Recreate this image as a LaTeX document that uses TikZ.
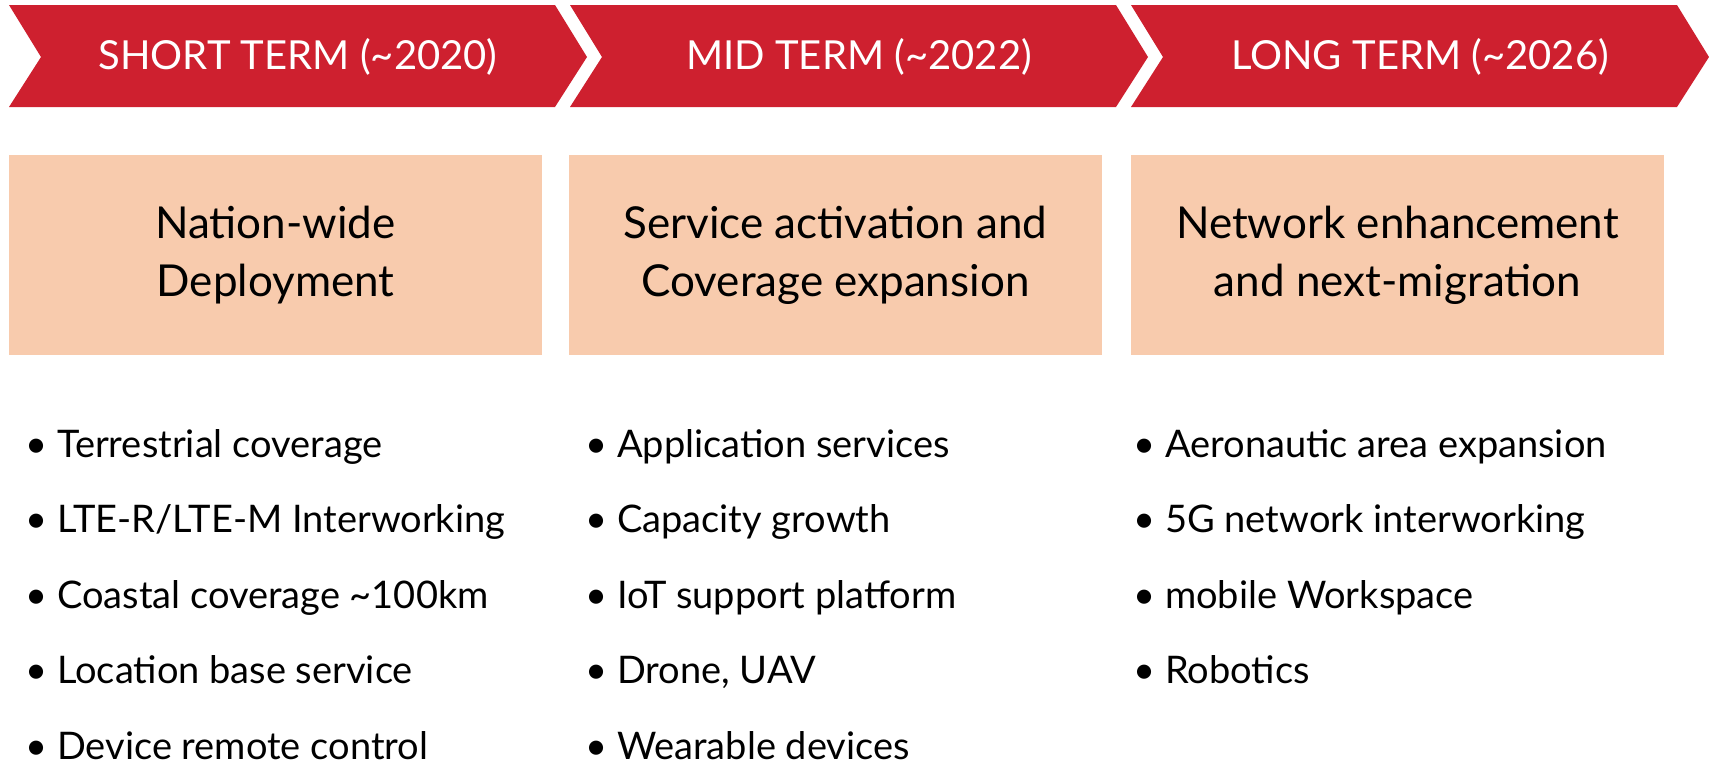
\documentclass[tikz,border=0pt]{standalone}
\usepackage{fontspec}
\setmainfont{Lato}
\usetikzlibrary{calc}
\definecolor{termred}{HTML}{CE202F}
\definecolor{peach}{HTML}{F8CBAD}
\tikzset{
  chev/.style={fill=termred, draw=none},
  goalbox/.style={fill=peach, draw=none, minimum width=266.5pt, minimum height=100pt,
    align=center, text=black, font=\fontsize{22}{29}\selectfont},
  termlab/.style={text=white, font=\fontsize{20}{24}\selectfont},
  item/.style={anchor=base west, inner sep=0pt, font=\fontsize{19}{23}\selectfont}
}

\begin{document}
\begin{tikzpicture}[x=0.5pt, y=-0.5pt]
  \useasboundingbox (0,0) rectangle (1709,766);
  \def\dep{32}

  % term arrows
  \foreach \x/\nm/\txt in {9/short/{SHORT TERM (\textasciitilde2020)},
                           570/mid/{MID TERM (\textasciitilde2022)},
                           1131/long/{LONG TERM (\textasciitilde2026)}}{
    \fill[chev] (\x,5) -- ({\x+546},5) -- ({\x+546+\dep},57) -- ({\x+546},107)
      -- (\x,107) -- ({\x+\dep},57) -- cycle;
    \node[termlab] (\nm) at ({\x+(546+\dep)/2},57) {\txt};
  }

  % goals
  \node[goalbox] (deploy) at (275.5,255) {Nation-wide\\Deployment};
  \node[goalbox] (activ)  at (835.5,255) {Service activation and\\Coverage expansion};
  \node[goalbox] (enhan)  at (1397.5,255) {Network enhancement\\and next-migration};

  % items
  \foreach \t [count=\i] in {Terrestrial coverage, LTE-R/LTE-M Interworking,
      Coastal coverage \textasciitilde100km, Location base service, Device remote control}
    \node[item] (s\i) at (25,{457+75.5*(\i-1)}) {\textbullet\ \t};
  \foreach \t [count=\i] in {Application services, Capacity growth,
      IoT support platform, {Drone, UAV}, Wearable devices}
    \node[item] (m\i) at (585,{457+75.5*(\i-1)}) {\textbullet\ \t};
  \foreach \t [count=\i] in {Aeronautic area expansion, 5G network interworking,
      mobile Workspace, Robotics}
    \node[item] (l\i) at (1133,{457+75.5*(\i-1)}) {\textbullet\ \t};
\end{tikzpicture}
\end{document}
